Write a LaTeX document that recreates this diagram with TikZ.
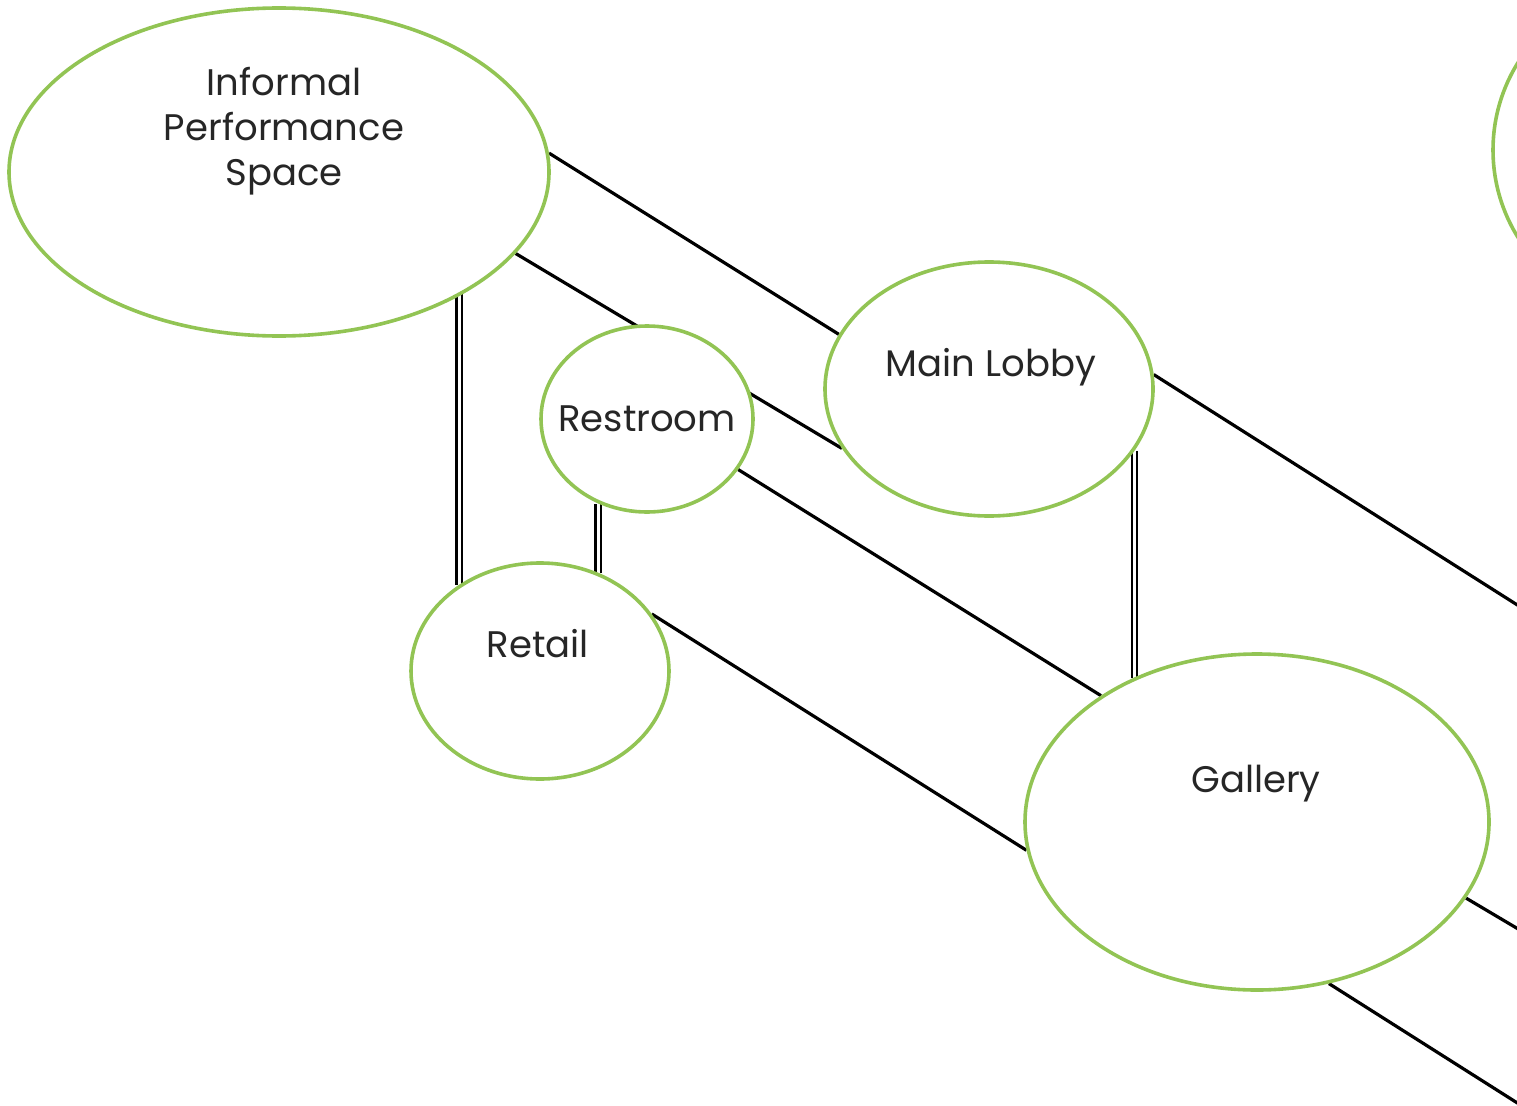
\documentclass[tikz,border=0pt]{standalone}
\usepackage{fontspec}
\setmainfont{Poppins}
\usetikzlibrary{shapes.geometric,backgrounds}
\definecolor{lgreen}{RGB}{146,196,84}
\tikzset{
  room/.style={ellipse, draw=lgreen, line width=3.6pt, fill=white, inner sep=0pt},
  lbl/.style={font=\fontsize{37}{45}\selectfont, align=center, text=black!85},
  link/.style={draw=black, line width=3.2pt},
  dlink/.style={draw=black, line width=2.4pt, double=white, double distance=3pt}
}
\begin{document}
\begin{tikzpicture}[x=1pt,y=-1pt]
\useasboundingbox (0,0) rectangle (1517,1105);
\clip (0,0) rectangle (1517,1105);
% rooms
\node[room, minimum width=540pt, minimum height=328pt] (ips) at (279,172) {};
\node[room, minimum width=212pt, minimum height=186pt] (rest) at (647,419) {};
\node[room, minimum width=328pt, minimum height=254pt] (lobby) at (989,389) {};
\node[room, minimum width=258pt, minimum height=216pt] (retail) at (540,671) {};
\node[room, minimum width=464pt, minimum height=336pt] (gallery) at (1257,822) {};
\node[room, minimum width=334pt, minimum height=332pt] (offr) at (1660,150) {};
% free ends
\coordinate (e1) at (1530,613);
\coordinate (e2) at (1530,936);
\coordinate (e3) at (1530,1111);
% connectors
\begin{scope}[on background layer]
\draw[link] (ips.4) -- (lobby.160);
\draw[link] (ips.-19) -- (lobby.-158);
\draw[link] (lobby.5) -- (e1);
\draw[link] (rest.-29) -- (gallery.141);
\draw[link] (retail.27) -- (gallery.-173);
\draw[link] (gallery.-20) -- (e2);
\draw[link] (gallery.-66) -- (e3);
\draw[dlink] (retail.133.4 |- ips.-33.9) -- (retail.133.4);
\draw[dlink] (rest.-120.7) -- (rest.-120.7 |- retail.59);
\draw[dlink] (lobby.-23.5) -- (lobby.-23.5 |- gallery.131.5);
\end{scope}
% labels
\node[lbl] (tips) at (284,131) {Informal\\Performance\\Space};
\node[lbl] (trest) at (647,419) {Restroom};
\node[lbl] (tlobby) at (991,367) {Main Lobby};
\node[lbl] (tretail) at (538,644) {Retail};
\node[lbl] (tgallery) at (1256,784) {Gallery};
\end{tikzpicture}
\end{document}
